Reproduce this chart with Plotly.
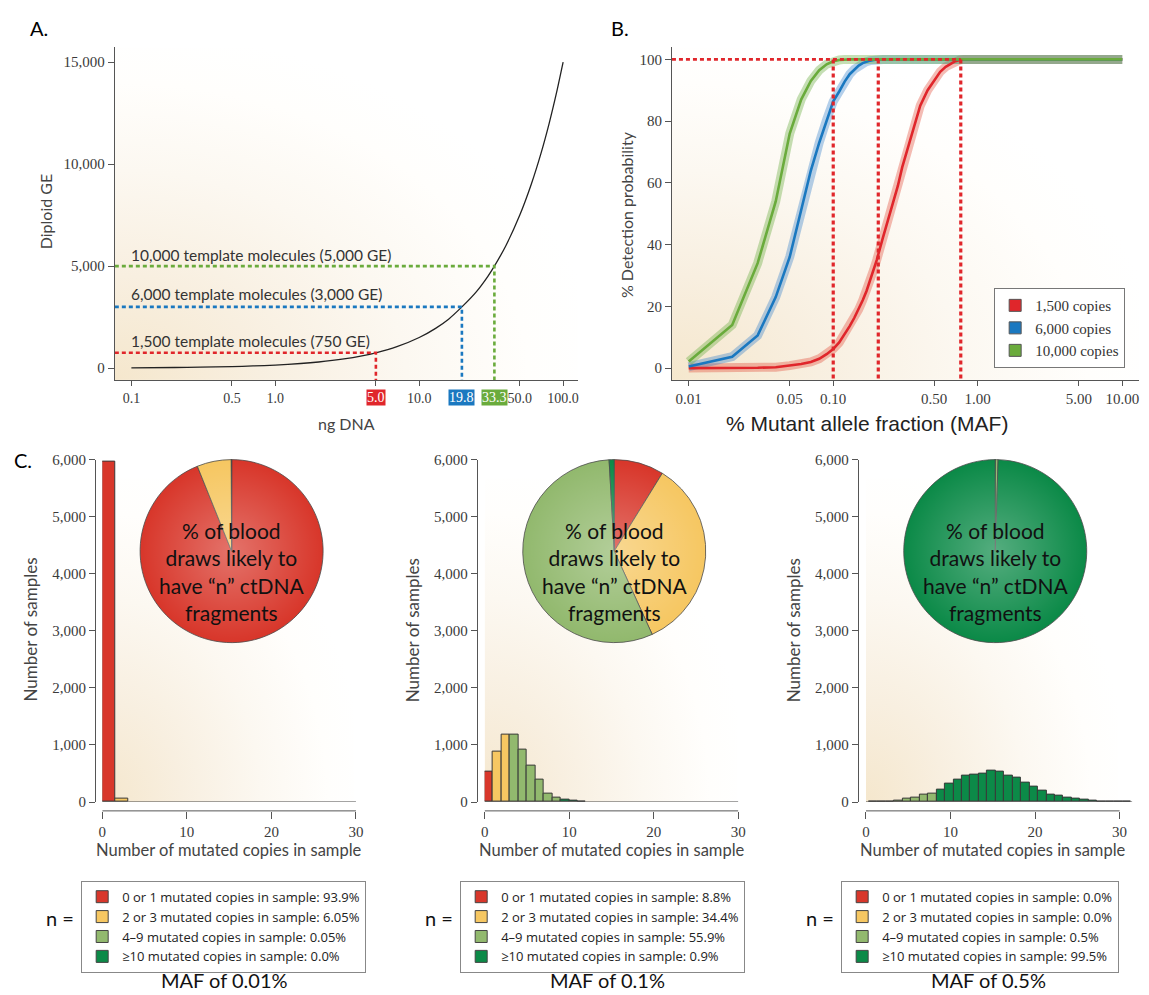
import base64
import math
import plotly.graph_objects as go

W, H = 1149, 995


def X(px):
    return px / W


def Y(py):
    return 1 - py / H


# ---------------- Data ----------------
# Panel A: diploid genome equivalents vs ng DNA
ng_dna = [0.1, 0.2, 0.3, 0.5, 0.7, 1.0, 1.5, 2.0, 3.0, 4.0, 5.0, 7.0, 10.0, 13.0, 16.0,
          19.8, 25.0, 30.0, 33.3, 40.0, 50.0, 60.0, 70.0, 80.0, 90.0, 100.0]
diploid_ge = [15, 30, 45, 75, 105, 150, 225, 300, 450, 600, 750, 1050, 1500, 1950, 2400,
              3000, 3750, 4500, 5000, 6000, 7500, 9000, 10500, 12000, 13500, 15000]
template_labels = ["1,500 template molecules (750 GE)",
                   "6,000 template molecules (3,000 GE)",
                   "10,000 template molecules (5,000 GE)"]
template_ge = [750, 3000, 5000]
template_ng = [5.0, 19.8, 33.3]
template_ng_text = ["5.0", "19.8", "33.3"]
a_xticks = [0.1, 0.5, 1.0, 5.0, 10.0, 50.0, 100.0]
a_xtick_text = ["0.1", "0.5", "1.0", "", "10.0", "50.0", "100.0"]
a_yticks = [0, 5000, 10000, 15000]
a_ytick_text = ["0", "5,000", "10,000", "15,000"]

# Panel B: detection probability vs MAF
maf = [0.01, 0.02, 0.03, 0.04, 0.05, 0.06, 0.07, 0.08, 0.09, 0.10, 0.11, 0.12, 0.13, 0.14,
       0.15, 0.16, 0.17, 0.18, 0.19, 0.20, 0.22, 0.25, 0.28, 0.30, 0.35, 0.40, 0.45, 0.50,
       0.55, 0.60, 0.65, 0.70, 0.75, 0.80, 0.90, 1.00, 2.00, 5.00, 10.00]
det_1500 = [0.0, 0.0, 0.1, 0.3, 0.8, 1.3, 2.0, 3.0, 4.5, 6.2, 8.3, 11.0, 13.6, 16.3,
            19.0, 22.0, 25.0, 28.5, 31.7, 35.0, 42.0, 51.0, 59.0, 65.0, 76.0, 85.0, 90.0, 93.3,
            96.0, 97.6, 98.6, 99.4, 99.8, 100, 100, 100, 100, 100, 100]
det_6000 = [0.5, 3.7, 10.6, 23.0, 36.0, 51.0, 64.0, 73.0, 80.5, 86.4, 89.6, 92.8, 95.2, 96.8,
            98.0, 98.8, 99.3, 99.6, 99.8, 100, 100, 100, 100, 100, 100, 100, 100, 100,
            100, 100, 100, 100, 100, 100, 100, 100, 100, 100, 100]
det_10000 = [2.1, 14.0, 34.0, 54.0, 76.0, 87.0, 93.0, 96.5, 98.4, 99.4, 99.8, 100, 100, 100,
             100, 100, 100, 100, 100, 100, 100, 100, 100, 100, 100, 100, 100, 100,
             100, 100, 100, 100, 100, 100, 100, 100, 100, 100, 100]
b_series_names = ["1,500 copies", "6,000 copies", "10,000 copies"]
maf_full_detection = [0.10, 0.205, 0.763]
b_xticks = [0.01, 0.05, 0.10, 0.50, 1.00, 5.00, 10.00]
b_xtick_text = ["0.01", "0.05", "0.10", "0.50", "1.00", "5.00", "10.00"]
b_yticks = [0, 20, 40, 60, 80, 100]

# Panel C: histograms (bin start, counts) and pie shares
c1_bin_start = [0.0, 1.55]
c1_bin_width = 1.55
c1_counts = [5960, 52]
c1_cat = [0, 1]

c2_bin_start = [0, 1, 2, 3, 4, 5, 6, 7, 8, 9, 10, 11]
c2_bin_width = 1.0
c2_counts = [528, 884, 1188, 1188, 918, 631, 390, 149, 75, 40, 17, 10]
c2_cat = [0, 1, 1, 2, 2, 2, 2, 2, 2, 3, 3, 3]

c3_bin_start = [0.35, 1.35, 2.35, 3.35, 4.35, 5.35, 6.35, 7.35, 8.35, 9.35, 10.35, 11.35,
                12.35, 13.35, 14.35, 15.35, 16.35, 17.35, 18.35, 19.35, 20.35, 21.35, 22.35,
                23.35, 24.35, 25.35, 26.35, 27.35, 28.35, 29.35, 30.35]
c3_bin_width = 1.0
c3_counts = [3, 4, 8, 20, 52, 80, 127, 155, 224, 328, 400, 471, 488, 496, 553, 525, 471,
             430, 344, 264, 207, 138, 109, 86, 57, 40, 23, 11, 6, 5, 4]
c3_cat = [2] * 8 + [3] * 23

category_labels = ["0 or 1 mutated copies in sample",
                   "2 or 3 mutated copies in sample",
                   "4\u20139 mutated copies in sample",
                   "\u226510 mutated copies in sample"]
pie_001 = ["93.9", "6.05", "0.05", "0.0"]
pie_01 = ["8.8", "34.4", "55.9", "0.9"]
pie_05 = ["0.0", "0.0", "0.5", "99.5"]
maf_titles = ["MAF of 0.01%", "MAF of 0.1%", "MAF of 0.5%"]
c_xticks = [0, 10, 20, 30]
c_yticks = [0, 1000, 2000, 3000, 4000, 5000, 6000]
c_ytick_text = ["0", "1,000", "2,000", "3,000", "4,000", "5,000", "6,000"]
pie_text = "% of blood<br>draws likely to<br>have \u201cn\u201d ctDNA<br>fragments"

# ---------------- Styles ----------------
RED = "#e0262b"
BLUE = "#1a78c0"
GREEN = "#6aab3c"
CAT_COLORS = ["#d8372b", "#f6c762", "#92b96e", "#0c8a48"]
TICK_FONT = dict(family="Liberation Serif", size=15, color="#3a3a3a")
SANS = "Lato"
AX_COL = "#555555"


def svg_uri(svg):
    return "data:image/svg+xml;base64," + base64.b64encode(svg.encode()).decode()


BG_SVG = svg_uri(
    '<svg xmlns="http://www.w3.org/2000/svg" width="100" height="100" viewBox="0 0 100 100" '
    'preserveAspectRatio="none"><defs><radialGradient id="g" gradientUnits="objectBoundingBox" '
    'cx="0" cy="1" r="1.05"><stop offset="0" stop-color="#f5e7cd"/>'
    '<stop offset="0.3" stop-color="#f8efe0"/><stop offset="0.6" stop-color="#fcf8f1"/>'
    '<stop offset="0.85" stop-color="#fffefc"/>'
    '<stop offset="1" stop-color="#ffffff"/></radialGradient></defs>'
    '<rect width="100" height="100" fill="url(#g)"/></svg>')
PIE_SHINE = svg_uri(
    '<svg xmlns="http://www.w3.org/2000/svg" width="100" height="100" viewBox="0 0 100 100">'
    '<defs><radialGradient id="p" cx="0.5" cy="0.5" r="0.5">'
    '<stop offset="0" stop-color="#ffffff" stop-opacity="0.3"/>'
    '<stop offset="1" stop-color="#ffffff" stop-opacity="0"/></radialGradient></defs>'
    '<circle cx="50" cy="50" r="49" fill="url(#p)"/></svg>')

fig = go.Figure()

# ---------------- Panel A ----------------
a_xrange = [-1.115, 2.103]
a_yrange = [-579, 15723]
fig.add_trace(go.Scatter(x=ng_dna, y=diploid_ge, mode="lines",
                         line=dict(color="#222", width=1.3, shape="spline", smoothing=0.6),
                         xaxis="x", yaxis="y", showlegend=False, hoverinfo="skip"))
for ge, ng, col in zip(template_ge, template_ng, [RED, BLUE, GREEN]):
    fig.add_trace(go.Scatter(x=[10 ** a_xrange[0], ng, ng], y=[ge, ge, a_yrange[0]], mode="lines",
                             line=dict(color=col, width=2.6, dash="4px,3px"),
                             xaxis="x", yaxis="y", showlegend=False, hoverinfo="skip"))

# ---------------- Panel B ----------------
b_xrange = [-2.116, 1.116]
b_yrange = [-3.83, 103.9]
b_cols = [RED, BLUE, GREEN]
b_band = ["rgba(226,80,60,0.38)", "rgba(40,120,200,0.35)", "rgba(110,175,70,0.40)"]
for ys, col, band in zip([det_1500, det_6000, det_10000], b_cols, b_band):
    fig.add_trace(go.Scatter(x=maf, y=ys, mode="lines", line=dict(color=band, width=9),
                             xaxis="x2", yaxis="y2", showlegend=False, hoverinfo="skip"))
for ys, col in zip([det_1500, det_6000, det_10000], b_cols):
    fig.add_trace(go.Scatter(x=maf, y=ys, mode="lines", line=dict(color=col, width=2.6),
                             xaxis="x2", yaxis="y2", showlegend=False, hoverinfo="skip"))
fig.add_trace(go.Scatter(x=[10 ** b_xrange[0], maf_full_detection[-1]], y=[100, 100], mode="lines",
                         line=dict(color=RED, width=2.6, dash="4px,3px"),
                         xaxis="x2", yaxis="y2", showlegend=False, hoverinfo="skip"))
for m in maf_full_detection:
    fig.add_trace(go.Scatter(x=[m, m], y=[100, b_yrange[0]], mode="lines",
                             line=dict(color=RED, width=3.2, dash="4px,3px"),
                             xaxis="x2", yaxis="y2", showlegend=False, hoverinfo="skip"))
for name, col in zip(b_series_names, b_cols):
    fig.add_trace(go.Bar(x=[None], y=[None], name=name,
                         marker=dict(color=col, line=dict(color="#555", width=1)),
                         xaxis="x2", yaxis="y2", legend="legend", showlegend=True, hoverinfo="skip"))

# ---------------- Panel C ----------------
c_geom = [  # (y-axis line px, x=0 px, xmax)
    (92, 99.3, 30.0),
    (477.7, 485.7, 30.0),
    (862.7, 871.0, 31.5),
]
PXU = 256.4 / 30.0
hist_data = [
    (c1_bin_start, c1_bin_width, c1_counts, c1_cat),
    (c2_bin_start, c2_bin_width, c2_counts, c2_cat),
    (c3_bin_start, c3_bin_width, c3_counts, c3_cat),
]
pies = [pie_001, pie_01, pie_05]
for i, ((starts, wd, counts, cats), shares) in enumerate(zip(hist_data, pies)):
    xa = "x%d" % (i + 3)
    ya = "y%d" % (i + 3)
    fig.add_trace(go.Bar(x=[s + wd / 2 for s in starts], y=counts, width=wd,
                         marker=dict(color=[CAT_COLORS[c] for c in cats],
                                     line=dict(color="#3a3a3a", width=1)),
                         xaxis=xa, yaxis=ya, showlegend=False, hoverinfo="skip"))
    for lab, val, col in zip(category_labels, shares, CAT_COLORS):
        fig.add_trace(go.Bar(x=[None], y=[None], name="%s: %s%%" % (lab, val),
                             marker=dict(color=col, line=dict(color="#444", width=1)),
                             xaxis=xa, yaxis=ya, legend="legend%d" % (i + 2), showlegend=True,
                             hoverinfo="skip"))

pie_centers = [230.0, 616.7, 1001.7]
PIE_CY, PIE_R = 552.0, 93.0
for cx, shares in zip(pie_centers, pies):
    fig.add_trace(go.Pie(values=[float(v) for v in shares], labels=category_labels, sort=False,
                         direction="clockwise", rotation=0, textinfo="none", hoverinfo="skip",
                         marker=dict(colors=CAT_COLORS, line=dict(color="#4a4a4a", width=0.8)),
                         domain=dict(x=[X(cx - PIE_R), X(cx + PIE_R)],
                                     y=[Y(PIE_CY + PIE_R), Y(PIE_CY - PIE_R)]),
                         showlegend=False))

# ---------------- Layout ----------------
common_ax = dict(showgrid=False, zeroline=False, showline=True, linecolor=AX_COL, linewidth=1,
                 ticks="outside", tickcolor=AX_COL, ticklen=6, tickfont=TICK_FONT)
layout = dict(
    width=W, height=H, autosize=False, margin=dict(l=0, r=0, t=0, b=0),
    paper_bgcolor="white", plot_bgcolor="rgba(0,0,0,0)", barmode="overlay", bargap=0,
    xaxis=dict(common_ax, domain=[X(112), X(580)], type="log", range=a_xrange, anchor="y",
               tickvals=a_xticks, ticktext=a_xtick_text, ticklen=5,
               tickfont=dict(TICK_FONT, size=14)),
    yaxis=dict(common_ax, domain=[Y(378), Y(40)], range=a_yrange, anchor="x",
               tickvals=a_yticks, ticktext=a_ytick_text),
    xaxis2=dict(common_ax, domain=[X(675), X(1147)], type="log", range=b_xrange, anchor="y2",
                tickvals=b_xticks, ticktext=b_xtick_text, ticklen=5),
    yaxis2=dict(common_ax, domain=[Y(378), Y(40)], range=b_yrange, anchor="x2",
                tickvals=b_yticks),
    legend=dict(x=X(1133), xanchor="right", y=Y(366), yanchor="bottom", bgcolor="white",
                bordercolor="#777", borderwidth=1,
                font=dict(family="Liberation Serif", size=15, color="#333"),
                tracegroupgap=0, traceorder="normal"),
)
shapes = []
for i, (yline, x0, xmax) in enumerate(c_geom):
    n = i + 3
    x_end = x0 + xmax * PXU
    layout["xaxis%d" % n] = dict(common_ax, showline=False, domain=[X(x0), X(x_end)], range=[0, xmax],
                                 anchor="free", position=Y(816), tickvals=c_xticks, ticklen=7)
    layout["yaxis%d" % n] = dict(common_ax, domain=[Y(807), Y(459)], range=[0, 6000], anchor="free",
                                 position=X(yline), tickvals=c_yticks, ticktext=c_ytick_text)
    shapes.append(dict(type="line", xref="x%d" % n, yref="paper", x0=0, x1=30, y0=Y(816), y1=Y(816),
                       line=dict(color=AX_COL, width=1)))
    shapes.append(dict(type="line", xref="x%d" % n, yref="y%d" % n, x0=0, x1=xmax, y0=0, y1=0,
                       line=dict(color="#444", width=1)))

legend_left = [78, 461, 846]
for i, lx in enumerate(legend_left):
    layout["legend%d" % (i + 2)] = dict(x=X(lx), xanchor="left", y=Y(887), yanchor="top",
                                         bgcolor="white", bordercolor="#888", borderwidth=1,
                                         tracegroupgap=0, traceorder="normal",
                                         font=dict(family="Open Sans", size=13, color="#222"))
fig.update_layout(**layout)
fig.update_layout(shapes=shapes)

# background gradients and pie shine
images = [
    dict(source=BG_SVG, xref="paper", yref="paper", x=X(112), y=Y(40), sizex=X(580) - X(112),
         sizey=(378 - 40) / H, sizing="stretch", layer="below"),
    dict(source=BG_SVG, xref="paper", yref="paper", x=X(675), y=Y(40), sizex=X(1147) - X(675),
         sizey=(378 - 40) / H, sizing="stretch", layer="below"),
]
for (yline, x0, xmax) in c_geom:
    images.append(dict(source=BG_SVG, xref="paper", yref="paper", x=X(x0), y=Y(478), sizex=255 / W,
                       sizey=(807 - 478) / H, sizing="stretch", layer="below"))
for cx in pie_centers:
    images.append(dict(source=PIE_SHINE, xref="paper", yref="paper", x=X(cx - PIE_R),
                       y=Y(PIE_CY - PIE_R), sizex=2 * PIE_R / W, sizey=2 * PIE_R / H,
                       sizing="stretch", layer="above"))
fig.update_layout(images=images)

# ---------------- Annotations ----------------
ann = []


def txt(x, y, text, size=15, family=SANS, color="#333", angle=0, xanchor="center", **kw):
    d = dict(x=X(x), y=Y(y), xref="paper", yref="paper", text=text, showarrow=False, textangle=angle,
             xanchor=xanchor, yanchor="middle", font=dict(family=family, size=size, color=color))
    d.update(kw)
    ann.append(d)


txt(35, 20, "A.", size=20, color="#000")
txt(622, 20, "B.", size=20, color="#000")
txt(19, 459, "C.", size=20, color="#000")
txt(42, 207, "Diploid GE", size=16, color="#444", angle=-90)
txt(346, 422, "ng DNA", size=16, color="#444")
txt(629, 210, "% Detection probability", size=16, color="#444", angle=-90)
txt(872, 422, "% Mutant allele fraction (MAF)", size=21, family="Liberation Sans", color="#222")
for lab, ge_y in zip(template_labels, [338, 291, 251]):
    txt(126, ge_y, lab, size=15.5, color="#333", xanchor="left")
for ng, t, col in zip(template_ng, template_ng_text, [RED, BLUE, GREEN]):
    ann.append(dict(x=math.log10(ng), y=Y(396), xref="x", yref="paper", text=t, showarrow=False,
                    bgcolor=col, borderpad=0, xanchor="center", yanchor="middle",
                    font=dict(family="Liberation Serif", size=14, color="white")))
for i, ((yline, x0, xmax), cx) in enumerate(zip(c_geom, pie_centers)):
    txt(yline - 65, 632, "Number of samples", size=17, color="#444", angle=-90)
    txt(x0 + 128.5, 856, "Number of mutated copies in sample", size=16.5, color="#444")
    txt(cx, 573, pie_text, size=21, color="#111")
    txt(legend_left[i] - 21, 925, "n =", size=20, color="#111")
    txt(cx - 7, 988, maf_titles[i], size=20, color="#111")
fig.update_layout(annotations=ann)

fig.write_html("out.html")
